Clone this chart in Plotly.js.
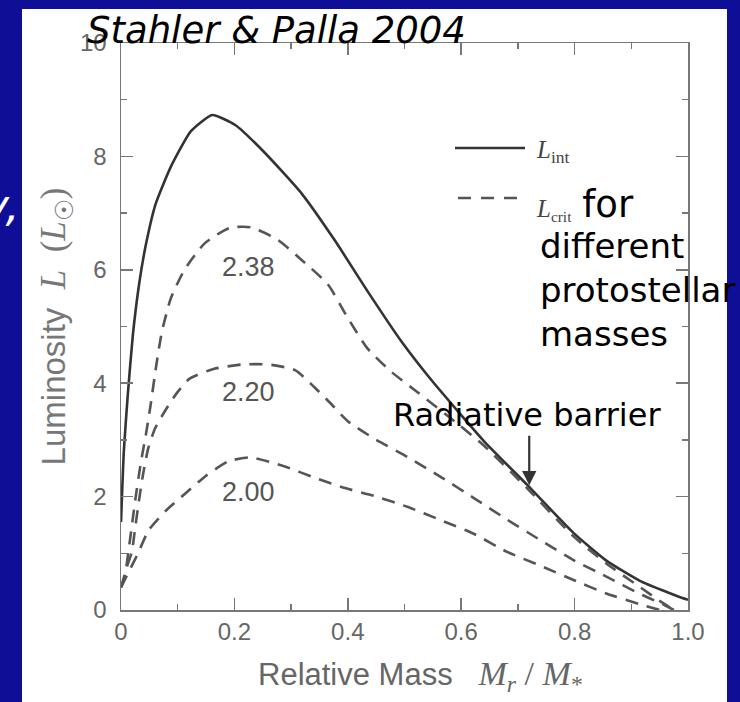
<!DOCTYPE html>
<html>
<head>
<meta charset="utf-8">
<script src="https://cdn.plot.ly/plotly-3.0.1.min.js"></script>
<style>html,body{margin:0;padding:0;background:#0e0e96;}</style>
</head>
<body>
<div id="chart" style="width:740px;height:702px;"></div>
<script>
// Relative mass M_r/M_* (x) and luminosity L in L_sun (y)
const lintX = [0, 0.005, 0.012, 0.021, 0.032, 0.044, 0.061, 0.088, 0.123, 0.161, 0.202, 0.254, 0.319, 0.377, 0.435, 0.495, 0.547, 0.64, 0.716, 0.798, 0.856, 0.916, 0.99, 1.0];
const lintY = [1.55, 2.8, 3.8, 4.86, 5.75, 6.45, 7.16, 7.82, 8.44, 8.73, 8.55, 8.06, 7.34, 6.52, 5.62, 4.73, 4.06, 2.98, 2.21, 1.36, 0.87, 0.51, 0.21, 0.18];

const crit238X = [0, 0.006, 0.014, 0.02, 0.026, 0.035, 0.044, 0.052, 0.062, 0.072, 0.088, 0.112, 0.148, 0.192, 0.228, 0.275, 0.319, 0.365, 0.40, 0.435, 0.477, 0.523, 0.593, 0.64, 0.716, 0.798, 0.856, 0.916, 0.95, 0.975];
const crit238Y = [0.4, 0.56, 1.1, 1.55, 2.0, 2.6, 3.1, 3.6, 4.3, 4.9, 5.5, 6.0, 6.47, 6.74, 6.75, 6.54, 6.17, 5.74, 5.15, 4.61, 4.20, 3.84, 3.29, 2.90, 2.15, 1.30, 0.82, 0.40, 0.16, 0.0];

const crit220X = [0, 0.01, 0.019, 0.025, 0.032, 0.039, 0.048, 0.06, 0.077, 0.098, 0.121, 0.163, 0.214, 0.26, 0.307, 0.342, 0.372, 0.40, 0.447, 0.505, 0.565, 0.623, 0.68, 0.74, 0.798, 0.856, 0.916, 0.96, 0.975];
const crit220Y = [0.4, 0.75, 1.02, 1.45, 1.95, 2.4, 2.85, 3.2, 3.5, 3.82, 4.08, 4.25, 4.33, 4.33, 4.23, 3.92, 3.62, 3.33, 3.02, 2.70, 2.34, 1.97, 1.60, 1.23, 0.88, 0.59, 0.28, 0.08, 0.0];

const crit200X = [0, 0.01, 0.02, 0.03, 0.049, 0.079, 0.114, 0.149, 0.189, 0.228, 0.289, 0.342, 0.395, 0.447, 0.505, 0.565, 0.623, 0.68, 0.74, 0.798, 0.856, 0.916, 0.95];
const crit200Y = [0.4, 0.6, 0.8, 1.0, 1.41, 1.75, 2.06, 2.36, 2.62, 2.69, 2.53, 2.33, 2.15, 2.01, 1.82, 1.58, 1.34, 1.03, 0.78, 0.53, 0.29, 0.1, 0.0];

const massLabels = ['2.38', '2.20', '2.00'];
const massLabelX = [0.225, 0.225, 0.225];
const massLabelY = [6.05, 3.85, 2.08];

const xTickVals = [0, 0.2, 0.4, 0.6, 0.8, 1.0];
const xTickText = ['0', '0.2', '0.4', '0.6', '0.8', '1.0'];
const yTickVals = [0, 2, 4, 6, 8, 10];
const yTickText = ['0', '2', '4', '6', '8', '10'];

const W = 740, H = 702;
const M = {l: 121, r: 52, t: 43, b: 92};
const PW = W - M.l - M.r, PH = H - M.t - M.b;
const px = x => (x - M.l) / PW;           // pixel -> paper x
const py = y => (H - M.b - y) / PH;       // pixel -> paper y

const SERIF = 'Liberation Serif, Times New Roman, serif';
const SANS = 'Liberation Sans, Arial, sans-serif';
const SLIDE = 'DejaVu Sans, Verdana, sans-serif';

const dashStyle = {color: '#555', width: 2.6, dash: '13px,9px', shape: 'spline', smoothing: 0.6};

const traces = [
  {x: lintX, y: lintY, mode: 'lines', name: 'L_int', line: {color: '#333', width: 2.6, shape: 'spline', smoothing: 0.5}},
  {x: crit238X, y: crit238Y, mode: 'lines', name: '2.38', line: dashStyle},
  {x: crit220X, y: crit220Y, mode: 'lines', name: '2.20', line: dashStyle},
  {x: crit200X, y: crit200Y, mode: 'lines', name: '2.00', line: dashStyle}
];

const axisCommon = {
  showgrid: false, zeroline: false, showline: true, linecolor: '#777', linewidth: 1.5,
  mirror: 'ticks', ticks: 'inside', ticklen: 12, tickwidth: 1.5, tickcolor: '#777',
  tickfont: {family: SANS, size: 24, color: '#666'}
};

const annotations = [
  {xref: 'paper', yref: 'paper', x: px(85), y: py(30), xanchor: 'left', yanchor: 'middle', showarrow: false,
   text: '<i>Stahler &amp; Palla 2004</i>', font: {family: SLIDE, size: 37, color: '#000'}},
  {xref: 'paper', yref: 'paper', x: px(22), y: py(205), xanchor: 'right', yanchor: 'middle', showarrow: false,
   text: '<i>y,</i>', font: {family: SLIDE, size: 44, color: '#fff'}},
  {xref: 'paper', yref: 'paper', x: px(534), y: py(151), xanchor: 'left', yanchor: 'middle', showarrow: false,
   text: '<i>L</i><sub>int</sub>', font: {family: SERIF, size: 25, color: '#444'}},
  {xref: 'paper', yref: 'paper', x: px(534), y: py(204), xanchor: 'left', yanchor: 'middle', showarrow: false,
   text: '<span style="font-family:Liberation Serif;color:#444;font-size:25px"><i>L</i></span><span style="font-family:Liberation Serif;color:#444;font-size:22px"><sub>crit</sub></span> <span style="font-size:37px">for</span>',
   font: {family: SLIDE, size: 34, color: '#000'}},
  {xref: 'paper', yref: 'paper', x: px(538), y: py(290), xanchor: 'left', yanchor: 'middle', showarrow: false, align: 'left',
   text: 'different<br>protostellar<br>masses', font: {family: SLIDE, size: 34, color: '#000'}},
  {xref: 'paper', yref: 'paper', x: px(527), y: py(415), xanchor: 'center', yanchor: 'middle', showarrow: false,
   text: 'Radiative barrier', font: {family: SLIDE, size: 32, color: '#000'}},
  {xref: 'x', yref: 'y', x: 0.72, y: 2.2, axref: 'x', ayref: 'y', ax: 0.72, ay: 3.1, text: '', showarrow: true,
   arrowhead: 2, arrowsize: 1.3, arrowwidth: 2.2, arrowcolor: '#333', standoff: 0, startstandoff: 0},
  {xref: 'paper', yref: 'paper', x: px(420), y: py(676), xanchor: 'center', yanchor: 'middle', showarrow: false,
   text: 'Relative Mass&nbsp;&nbsp;&nbsp;<span style="font-family:Liberation Serif;font-size:34px"><i>M</i><sub><i>r</i></sub> / <i>M</i><sub>*</sub></span>',
   font: {family: SANS, size: 31, color: '#666'}}
];
for (let i = 0; i < massLabels.length; i++) {
  annotations.push({xref: 'x', yref: 'y', x: massLabelX[i], y: massLabelY[i], text: massLabels[i], showarrow: false,
    font: {family: SANS, size: 27, color: '#555'}});
}

const layout = {
  width: W, height: H, margin: M,
  paper_bgcolor: 'rgb(14,14,150)', plot_bgcolor: '#fff', showlegend: false,
  xaxis: Object.assign({}, axisCommon, {
    range: [0, 1], tickvals: xTickVals, ticktext: xTickText,
    minor: {dtick: 0.1, tick0: 0, ticks: 'inside', ticklen: 6, tickwidth: 1.5, tickcolor: '#777'}
  }),
  yaxis: Object.assign({}, axisCommon, {
    range: [0, 10], tickvals: yTickVals, ticktext: yTickText, ticklabelstandoff: 8,
    minor: {dtick: 1, tick0: 0, ticks: 'inside', ticklen: 6, tickwidth: 1.5, tickcolor: '#777'},
    title: {text: 'Luminosity&nbsp;&nbsp;<span style="font-family:Liberation Serif;font-size:35px"><i>L</i>&nbsp;&nbsp;(<i>L</i><sub>☉</sub>)</span>',
            font: {family: SANS, size: 33, color: '#777'}, standoff: 4}
  }),
  shapes: [
    {type: 'rect', xref: 'paper', yref: 'paper', x0: px(22), x1: px(727), y0: py(702), y1: py(9),
     fillcolor: '#fff', line: {width: 0}, layer: 'below'},
    {type: 'line', xref: 'paper', yref: 'paper', x0: px(455), x1: px(525), y0: py(148), y1: py(148),
     line: {color: '#333', width: 2.6}},
    {type: 'line', xref: 'paper', yref: 'paper', x0: px(458), x1: px(523), y0: py(198), y1: py(198),
     line: {color: '#555', width: 2.6, dash: '13px,10px'}}
  ],
  annotations: annotations
};

Plotly.newPlot('chart', traces, layout, {staticPlot: true, displayModeBar: false});
</script>
</body>
</html>
